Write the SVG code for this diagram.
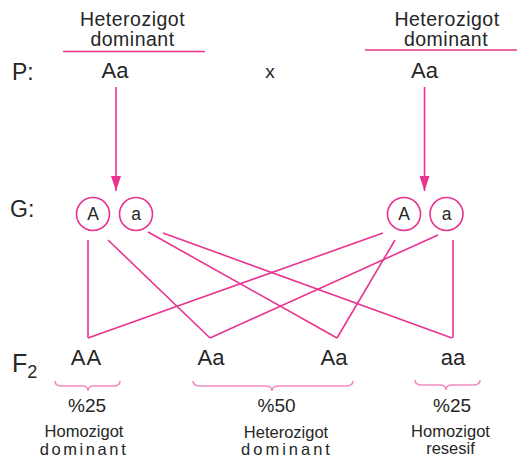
<svg xmlns="http://www.w3.org/2000/svg" width="518" height="461" viewBox="0 0 518 461">
  <style>
    text { font-family: "Liberation Sans", Arial, sans-serif; fill: #262626; }
    .hdr { font-size: 19.5px; text-anchor: middle; letter-spacing: 0.5px; }
    .lbl { font-size: 23px; }
    .geno { font-size: 22px; text-anchor: middle; }
    .gam { font-size: 17.5px; text-anchor: middle; }
    .pct { font-size: 19px; text-anchor: middle; }
    .cap { font-size: 16.5px; text-anchor: middle; }
    .ln { stroke: #e8338f; stroke-width: 1.6; fill: none; }
    .brace { stroke: #f08cc0; stroke-width: 1.6; fill: none; }
    .gam-c { stroke: #e8338f; stroke-width: 1.6; fill: #ffffff; }
  </style>
  <defs>
    <!-- arrowhead drawn along +x so orient="auto" points it along the line -->
    <marker id="head" markerWidth="15" markerHeight="10" refX="15" refY="5" orient="auto" markerUnits="userSpaceOnUse" viewBox="0 0 15 10">
      <path d="M0,0 L15,5 L0,10 Z" fill="#e8338f"/>
    </marker>
  </defs>

  <!-- row labels -->
  <g id="row-labels">
    <text class="lbl" x="12" y="80">P:</text>
    <text class="lbl" x="10" y="217">G:</text>
    <text class="lbl" x="12" y="372" style="font-size:25px">F<tspan dy="6" style="font-size:18px">2</tspan></text>
  </g>

  <!-- parents -->
  <g id="parent-left">
    <text class="hdr" x="132.5" y="26">Heterozigot</text>
    <text class="hdr" x="132.5" y="46">dominant</text>
    <line class="ln" x1="63" y1="51.5" x2="205" y2="51.5" stroke-width="2"/>
    <text class="geno" x="115" y="78">Aa</text>
  </g>
  <g id="cross">
    <text class="geno" x="270" y="78" style="font-size:19px">x</text>
  </g>
  <g id="parent-right">
    <text class="hdr" x="447" y="25.5">Heterozigot</text>
    <text class="hdr" x="446" y="45.5">dominant</text>
    <line class="ln" x1="365" y1="50" x2="517" y2="50" stroke-width="2"/>
    <text class="geno" x="424.5" y="78">Aa</text>
  </g>

  <!-- connectors -->
  <g id="connectors">
    <line class="ln" x1="116" y1="87" x2="116" y2="191" marker-end="url(#head)"/>
    <line class="ln" x1="424.5" y1="87" x2="424.5" y2="191" marker-end="url(#head)"/>

    <line class="ln" x1="88" y1="240" x2="88" y2="338"/>
    <line class="ln" x1="108" y1="240" x2="210" y2="338"/>
    <line class="ln" x1="148" y1="232" x2="337" y2="338"/>
    <line class="ln" x1="163" y1="233" x2="452" y2="338"/>

    <line class="ln" x1="383" y1="233" x2="88" y2="338"/>
    <line class="ln" x1="438" y1="235" x2="210" y2="338"/>
    <line class="ln" x1="395" y1="240" x2="337" y2="338"/>
    <line class="ln" x1="453" y1="240" x2="453" y2="338"/>
  </g>

  <!-- gametes -->
  <g id="gamete-A-left">
    <circle class="gam-c" cx="93" cy="214" r="16.5"/>
    <text class="gam" x="93" y="220">A</text>
  </g>
  <g id="gamete-a-left">
    <circle class="gam-c" cx="136" cy="214" r="16.5"/>
    <text class="gam" x="136" y="220">a</text>
  </g>
  <g id="gamete-A-right">
    <circle class="gam-c" cx="404" cy="214" r="16.5"/>
    <text class="gam" x="404" y="220">A</text>
  </g>
  <g id="gamete-a-right">
    <circle class="gam-c" cx="446.5" cy="214" r="16.5"/>
    <text class="gam" x="446.5" y="220">a</text>
  </g>

  <!-- offspring -->
  <g id="f2-AA">
    <text class="geno" x="86.5" y="365" style="letter-spacing:1px">AA</text>
    <path class="brace" d="M55,381 Q55,386 62,386 L82,386 Q88,386 88,391 Q88,386 94,386 L113,386 Q120,386 120,381"/>
    <text class="pct" x="87" y="411.5">%25</text>
    <text class="cap" x="84" y="437">Homozigot</text>
    <text class="cap" x="84" y="455" style="letter-spacing:2.6px">dominant</text>
  </g>
  <g id="f2-Aa-1">
    <text class="geno" x="211" y="365">Aa</text>
  </g>
  <g id="f2-Aa-2">
    <text class="geno" x="334" y="365">Aa</text>
  </g>
  <g id="f2-hetero">
    <path class="brace" d="M193,381 Q193,386 201,386 L265,386 Q272,386 272,391 Q272,386 279,386 L345,386 Q353,386 353,381"/>
    <text class="pct" x="276.5" y="411.5">%50</text>
    <text class="cap" x="286" y="438">Heterozigot</text>
    <text class="cap" x="287" y="455" style="letter-spacing:3px">dominant</text>
  </g>
  <g id="f2-aa">
    <text class="geno" x="453" y="365">aa</text>
    <path class="brace" d="M415,380 Q415,385 422,385 L440,385 Q446,385 446,390 Q446,385 452,385 L473,385 Q480,385 480,380"/>
    <text class="pct" x="452" y="411.5">%25</text>
    <text class="cap" x="450.5" y="437">Homozigot</text>
    <text class="cap" x="450.5" y="454">resesif</text>
  </g>
</svg>
